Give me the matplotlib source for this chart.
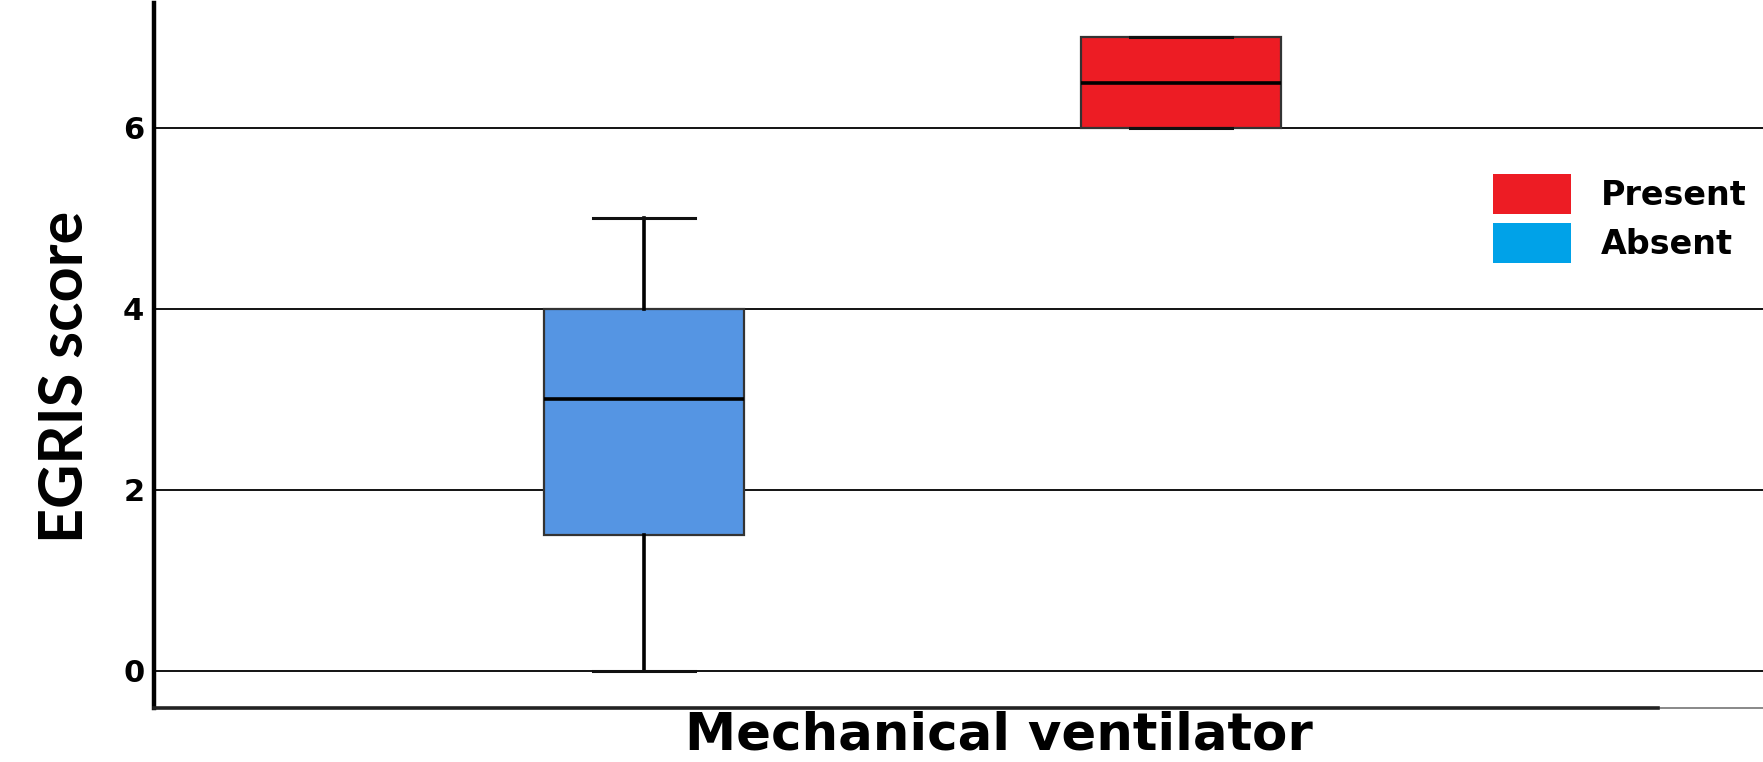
import matplotlib
matplotlib.use("Agg")
import matplotlib.pyplot as plt
from matplotlib.patches import Patch

# values
groups = ["Absent", "Present"]
whislo = [0, 6]
q1 = [1.5, 6]
med = [3, 6.5]
q3 = [4, 7]
whishi = [5, 7]
box_colors = ["#5595E3", "#ED1C24"]
legend_labels = ["Present", "Absent"]
legend_colors = ["#ED1C24", "#00A2E8"]
yticks = [0, 2, 4, 6]

W, H = 1763, 762
fig = plt.figure(figsize=(W / 100, H / 100), dpi=100)
# axes run past the right edge, the original picture was cropped there
ax = fig.add_axes([154 / W, 1 - 708 / H, (1844 - 154) / W, (708 - 3) / H])

stats = []
for i in range(len(groups)):
    stats.append(dict(label=groups[i], whislo=whislo[i], q1=q1[i], med=med[i],
                      q3=q3[i], whishi=whishi[i], fliers=[]))

bp = ax.bxp(stats, positions=[1, 2], widths=0.374, capwidths=0.19,
            patch_artist=True, showfliers=False,
            boxprops=dict(edgecolor="#333333", linewidth=1.6, zorder=3),
            medianprops=dict(color="black", linewidth=2.6, zorder=4),
            whiskerprops=dict(color="black", linewidth=2.6, zorder=4),
            capprops=dict(color="#111111", linewidth=2.2, zorder=4))
for patch, c in zip(bp["boxes"], box_colors):
    patch.set_facecolor(c)

ax.set_xlim(0.0875, 3.2346)
ax.set_ylim(-0.41, 7.38)
ax.set_yticks(yticks)
ax.set_xticks([])
ax.yaxis.grid(True, color="black", linewidth=1.3)
ax.set_axisbelow(True)
ax.tick_params(axis="y", length=0, pad=7, labelsize=22)
for lab in ax.get_yticklabels():
    lab.set_fontweight("bold")
    lab.set_family("DejaVu Sans")

ax.spines["top"].set_visible(False)
ax.spines["right"].set_visible(False)
ax.spines["left"].set_linewidth(3.2)
# thin grey baseline all the way, thick black part only up to ~x=1658px
ax.spines["bottom"].set_linewidth(1.4)
ax.spines["bottom"].set_color("#888888")
ax.axhline(ax.get_ylim()[0], xmin=0, xmax=0.89, color="#222222", linewidth=2.6,
           clip_on=False, zorder=5)

ax.set_ylabel("EGRIS score", fontsize=44, fontweight="bold", family="Lato")
ax.yaxis.set_label_coords(-0.036, 0.4695)
ax.set_xlabel("Mechanical ventilator", fontsize=37, fontweight="bold",
              family="DejaVu Sans", labelpad=2)

handles = [Patch(facecolor=c, edgecolor="none") for c in legend_colors]
fig.legend(handles, legend_labels, loc="upper left",
           bbox_to_anchor=(1493 / W, 1 - 174 / H), frameon=False,
           prop=dict(family="DejaVu Sans", weight="bold", size=24),
           handlelength=2.34, handleheight=1.47, handletextpad=0.9,
           labelspacing=0.27, borderpad=0, borderaxespad=0)

fig.savefig("out.png", dpi=100)
